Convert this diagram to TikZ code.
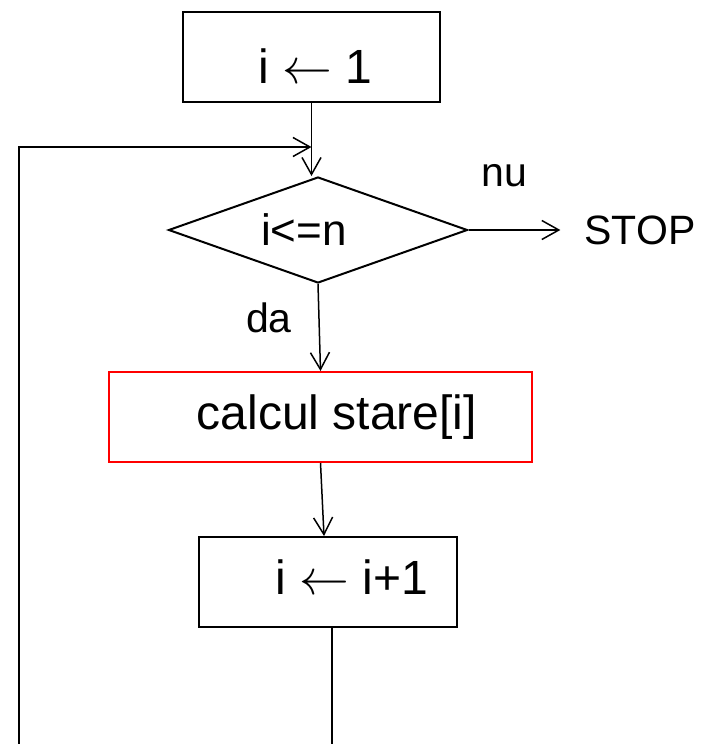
\documentclass[tikz,border=0pt]{standalone}
\usepackage{fontspec}
\setmainfont{Liberation Sans}
\usepackage{xcolor}
\usetikzlibrary{shapes.geometric,arrows.meta}
\definecolor{boxred}{HTML}{FF0000}
\newcommand{\assignarrow}{\scalebox{2}{$\leftarrow$}}

\begin{document}
\begin{tikzpicture}[x=1pt, y=-1pt,
    box/.style={draw, line width=2pt, minimum height=90pt, inner sep=0pt, font=\fontsize{48}{56}\selectfont},
    cond/.style={draw, diamond, aspect=2.8, line width=2pt, minimum width=299pt, minimum height=106pt, inner sep=0pt, font=\fontsize{44}{52}\selectfont},
    lbl/.style={inner sep=0pt, font=\fontsize{41}{48}\selectfont},
    arr/.style={-{Straight Barb[length=17pt, width=19pt]}, line width=1.5pt},
    wire/.style={line width=1.5pt}]
    \useasboundingbox (0,0) rectangle (702,744);

    % blocks
    \node[box, minimum width=257pt, text height=52pt, text depth=0pt] (init) at (311.5,57) {\hspace*{8pt}i \assignarrow{} 1};
    \node[cond] (test) at (318,230) {i<=n\hspace*{28pt}};
    \node[box, draw=boxred, minimum width=423pt] (calc) at (320.5,417) {\hspace*{33pt}calcul stare[i]};
    \node[box, minimum width=258pt, text height=24pt, text depth=0pt] (incr) at (328,582) {\hspace*{48pt}i \assignarrow{} i+1};

    % labels
    \node[lbl, inner xsep=24pt] (stop) at (640,230) {STOP};
    \node[lbl] (nu) at (504,176) {nu};
    \node[lbl] (da) at (269,318) {da};

    \coordinate (join) at (init.south |- 0,147);
    \coordinate (loopL) at (19,744);
    \coordinate (loopR) at (332,744);

    % connectors
    \draw[arr] (init.south) -- (init.south |- test.north);
    \draw[arr] (loopL) |- (join);
    \draw[arr] (test.east) -- (stop.west);
    \draw[arr] (test.south) -- (calc.north);
    \draw[arr] (calc.south) -- ([xshift=-4pt]incr.north);
    \draw[wire] (incr.south -| loopR) -- (loopR);
\end{tikzpicture}
\end{document}
